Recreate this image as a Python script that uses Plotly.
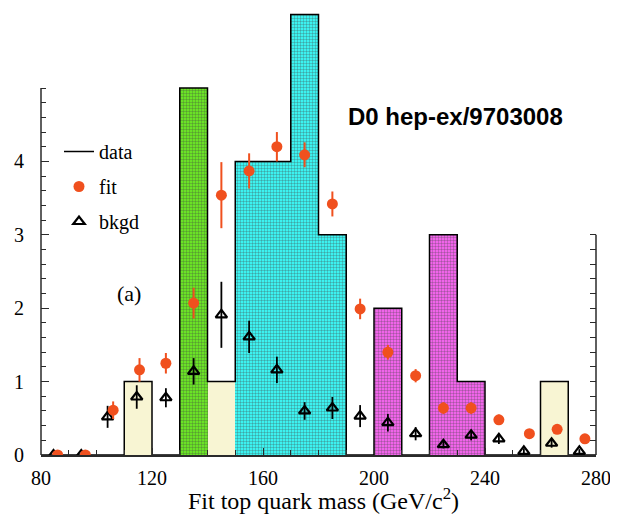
import plotly.graph_objects as go

# ---------------- data ----------------
bin_edges = [80, 90, 100, 110, 120, 130, 140, 150, 160, 170, 180,
             190, 200, 210, 220, 230, 240, 250, 260, 270, 280]
data_counts = [0, 0, 0, 1, 0, 5, 1, 4, 4, 6, 3, 0, 2, 0, 3, 1, 0, 0, 1, 0]
bin_group = ["", "", "", "y", "", "g", "y", "c", "c", "c", "c",
             "", "m", "", "m", "m", "", "", "y", ""]

fit_x = [86, 96, 106, 115.5, 125, 135, 145, 155, 165, 175, 185, 195, 205, 215, 225, 235, 245, 256, 266, 276]
fit_y = [0.0, 0.0, 0.61, 1.16, 1.25, 2.07, 3.54, 3.87, 4.20, 4.09, 3.42, 1.99, 1.40, 1.08, 0.64, 0.64, 0.48, 0.29, 0.35, 0.22]
fit_err = [0.03, 0.03, 0.12, 0.16, 0.14, 0.21, 0.45, 0.24, 0.20, 0.17, 0.17, 0.14, 0.10, 0.09, 0.08, 0.08, 0.07, 0.05, 0.06, 0.05]

bkgd_x = [84.5, 94.5, 104, 114.5, 125, 135, 145, 155, 165, 175, 185, 195, 205, 215, 225, 235, 245, 254, 264, 274]
bkgd_y = [0.0, 0.0, 0.52, 0.79, 0.78, 1.14, 1.91, 1.61, 1.16, 0.60, 0.64, 0.53, 0.44, 0.29, 0.14, 0.27, 0.22, 0.05, 0.16, 0.05]
bkgd_err = [0.02, 0.02, 0.15, 0.16, 0.13, 0.18, 0.45, 0.22, 0.18, 0.12, 0.15, 0.15, 0.12, 0.09, 0.05, 0.07, 0.07, 0.04, 0.06, 0.03]

x_tick_vals = [80, 120, 160, 200, 240, 280]
y_tick_vals = [0, 1, 2, 3, 4]
y_tick_text = ["0", "1", "2", "3", "4"]

# ---------------- styles ----------------
group_color = {"": "rgba(0,0,0,0)", "y": "#f8f5d3", "g": "#6ae226",
               "c": "#3cf2f0", "m": "#f064ea"}
group_tint = {"": "white", "y": "white", "g": "#c8f7a8",
              "c": "#c4fdfd", "m": "#fbc8f6"}
group_pattern = {"": "", "y": "", "g": "+", "c": "+", "m": "+"}
SERIF = "Liberation Serif"
SANS = "Liberation Sans"
AX = "#2a2a2a"
FIT_COLOR = "#f0501e"

# page has an 8px body margin: plot area placed to land at x 41..596, y 8..455
W, H = 618, 515
ML, MR, MT, MB = 33, 30, 0, 68
PW, PH = W - ML - MR, H - MT - MB
OX, OY = 8 + ML, 8 + MT  # page pixel of plot top-left


def px_x(p):
    return (p - OX) / PW


def px_y(p):
    return 1 - (p - OY) / PH


centers = [(a + b) / 2 for a, b in zip(bin_edges[:-1], bin_edges[1:])]
widths = [b - a for a, b in zip(bin_edges[:-1], bin_edges[1:])]

fig = go.Figure()

fig.add_trace(go.Bar(
    x=centers, y=data_counts, width=widths,
    marker=dict(
        color=[group_color[g] for g in bin_group],
        line=dict(width=0),
        pattern=dict(shape=[group_pattern[g] for g in bin_group],
                     fgcolor=[group_tint[g] for g in bin_group],
                     fgopacity=0.8, size=3, solidity=0.2,
                     fillmode="overlay"),
    ),
    showlegend=False, hoverinfo="skip",
))

# data step outline
fig.add_trace(go.Scatter(
    x=bin_edges, y=data_counts + [data_counts[-1]],
    mode="lines", line=dict(shape="hv", color="black", width=1.5),
    name="data", legendgroup="g1",
))

fit_marker = dict(symbol="circle", size=11, color=FIT_COLOR)
bkgd_marker = dict(symbol="triangle-up-open", size=10, color="black",
                   line=dict(width=2.2, color="black"))

# legend entry for "fit" (the points themselves are drawn last, on top)
fig.add_trace(go.Scatter(x=[None], y=[None], mode="markers", name="fit",
                         legendgroup="g2", marker=fit_marker))

fig.add_trace(go.Scatter(
    x=bkgd_x, y=bkgd_y, mode="markers", name="bkgd", legendgroup="g3",
    marker=bkgd_marker,
    error_y=dict(type="data", array=bkgd_err, color="black", thickness=1.8, width=0),
))

fig.add_trace(go.Scatter(
    x=fit_x, y=fit_y, mode="markers", name="fit", showlegend=False,
    marker=fit_marker,
    error_y=dict(type="data", array=fit_err, color=FIT_COLOR, thickness=2, width=0),
))

# dummy trace so the right-hand axis is drawn
fig.add_trace(go.Scatter(x=[None], y=[None], yaxis="y2", showlegend=False, hoverinfo="skip"))

y_top = PH / 73.4  # ~73.4 px per unit

minor_left = [round(i * 0.2, 1) for i in range(26) if i % 5 != 0 or i == 25]
right_ticks = [round(i * 0.2, 1) for i in range(16)]

fig.update_layout(
    width=W, height=H,
    margin=dict(l=ML, r=MR, t=MT, b=MB),
    paper_bgcolor="white", plot_bgcolor="white",
    bargap=0,
    xaxis=dict(
        range=[80, 280], showgrid=False, zeroline=False,
        showline=True, linecolor=AX, linewidth=1.5, mirror=False,
        tickmode="array", tickvals=x_tick_vals,
        ticks="inside", ticklen=7, tickwidth=1.2, tickcolor=AX,
        minor=dict(dtick=10, tick0=80, ticks="inside", ticklen=5, tickwidth=1.2, tickcolor=AX),
        tickfont=dict(family=SERIF, size=20, color="black"),
        ticklabelstandoff=4,
    ),
    yaxis=dict(
        range=[0, y_top], showgrid=False, zeroline=False, showline=False,
        tickmode="array", tickvals=y_tick_vals, ticktext=y_tick_text,
        ticks="inside", ticklen=8, tickwidth=1.2, tickcolor=AX,
        minor=dict(tickvals=minor_left, ticks="inside", ticklen=5, tickwidth=1.2, tickcolor=AX),
        tickfont=dict(family=SERIF, size=20, color="black"),
        ticklabelstandoff=16,
    ),
    yaxis2=dict(
        range=[0, y_top], overlaying="y", side="right", anchor="x",
        showgrid=False, zeroline=False, showline=False,
        tickmode="array", tickvals=right_ticks, showticklabels=False,
        ticks="inside", ticklen=6, tickwidth=1.2, tickcolor=AX,
    ),
    legend=dict(
        x=px_x(59), y=px_y(132), xanchor="left", yanchor="top",
        font=dict(family=SERIF, size=20, color="black"),
        bgcolor="rgba(0,0,0,0)", traceorder="grouped", tracegroupgap=6,
    ),
    shapes=[
        dict(type="line", xref="paper", yref="y", x0=0, x1=0, y0=0, y1=5,
             line=dict(color=AX, width=1.5)),
        dict(type="line", xref="paper", yref="y", x0=1, x1=1, y0=0, y1=3,
             line=dict(color=AX, width=1.5)),
    ],
    annotations=[
        dict(text="Fit top quark mass (GeV/c<sup>2</sup>)", xref="paper", yref="paper",
             x=px_x(323), y=px_y(499), yanchor="middle", xanchor="center", showarrow=False,
             font=dict(family=SERIF, size=24, color="black")),
        dict(text="<b>D0 hep-ex/9703008</b>", xref="paper", yref="paper",
             x=px_x(455), y=px_y(116), xanchor="center", yanchor="middle",
             showarrow=False, font=dict(family=SANS, size=24, color="black")),
        dict(text="(a)", xref="paper", yref="paper",
             x=px_x(129), y=px_y(293), xanchor="center", yanchor="middle",
             showarrow=False, font=dict(family=SERIF, size=22, color="black")),
    ],
)

fig.write_html("out.html")
